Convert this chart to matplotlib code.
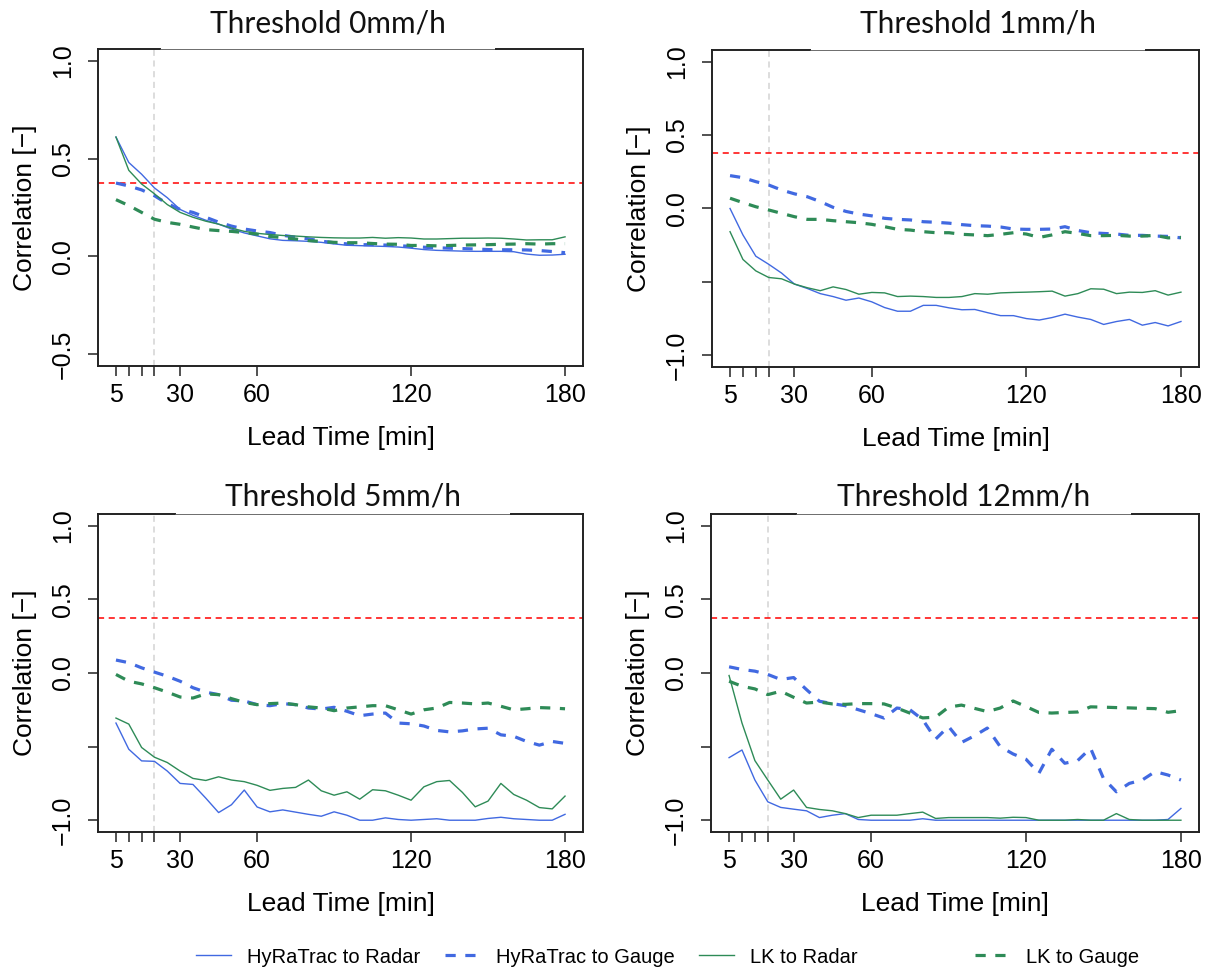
import matplotlib
matplotlib.use("Agg")
import matplotlib.pyplot as plt
from matplotlib import font_manager

# ---------------- data ----------------
lead_time = [5, 10, 15, 20, 25, 30, 35, 40, 45, 50, 55, 60, 65, 70, 75, 80, 85, 90,
             95, 100, 105, 110, 115, 120, 125, 130, 135, 140, 145, 150, 155, 160,
             165, 170, 175, 180]

series_names = ["HyRaTrac to Radar", "HyRaTrac to Gauge", "LK to Radar", "LK to Gauge"]
thresholds = ["Threshold 0mm/h", "Threshold 1mm/h", "Threshold 5mm/h", "Threshold 12mm/h"]

# Threshold 0 mm/h
hyra_radar_0 = [0.61, 0.48, 0.42, 0.35, 0.30, 0.24, 0.21, 0.185, 0.165, 0.14, 0.12, 0.105,
                0.09, 0.082, 0.08, 0.077, 0.072, 0.064, 0.057, 0.055, 0.053, 0.051, 0.048,
                0.042, 0.035, 0.031, 0.029, 0.027, 0.026, 0.026, 0.026, 0.024, 0.012,
                0.006, 0.007, 0.011]
hyra_gauge_0 = [0.375, 0.36, 0.34, 0.31, 0.27, 0.24, 0.225, 0.20, 0.175, 0.155, 0.14, 0.13,
                0.122, 0.108, 0.098, 0.09, 0.078, 0.07, 0.064, 0.06, 0.06, 0.058, 0.055,
                0.051, 0.047, 0.044, 0.042, 0.04, 0.038, 0.035, 0.034, 0.034, 0.033, 0.03,
                0.025, 0.019]
lk_radar_0 = [0.61, 0.44, 0.37, 0.32, 0.265, 0.225, 0.20, 0.18, 0.165, 0.145, 0.128, 0.118,
              0.112, 0.107, 0.104, 0.10, 0.097, 0.095, 0.094, 0.094, 0.097, 0.093, 0.096,
              0.094, 0.089, 0.089, 0.091, 0.093, 0.093, 0.094, 0.093, 0.089, 0.084, 0.085,
              0.085, 0.10]
lk_gauge_0 = [0.29, 0.26, 0.225, 0.19, 0.174, 0.164, 0.15, 0.137, 0.132, 0.128, 0.122, 0.114,
              0.102, 0.096, 0.089, 0.081, 0.076, 0.072, 0.07, 0.07, 0.066, 0.063, 0.062,
              0.056, 0.056, 0.054, 0.056, 0.058, 0.059, 0.06, 0.062, 0.063, 0.065, 0.063,
              0.065, 0.065]

# Threshold 1 mm/h
hyra_radar_1 = [0.0, -0.18, -0.325, -0.38, -0.44, -0.515, -0.545, -0.58, -0.60, -0.625,
                -0.61, -0.636, -0.675, -0.70, -0.70, -0.66, -0.66, -0.677, -0.69, -0.688,
                -0.71, -0.73, -0.73, -0.75, -0.76, -0.743, -0.72, -0.74, -0.756, -0.79,
                -0.77, -0.756, -0.795, -0.777, -0.80, -0.77]
hyra_gauge_1 = [0.224, 0.21, 0.183, 0.16, 0.126, 0.10, 0.08, 0.047, 0.008, -0.02, -0.038,
                -0.05, -0.067, -0.074, -0.078, -0.09, -0.094, -0.10, -0.11, -0.117, -0.12,
                -0.126, -0.14, -0.142, -0.142, -0.14, -0.124, -0.15, -0.165, -0.17, -0.174,
                -0.183, -0.183, -0.188, -0.19, -0.20]
lk_radar_1 = [-0.158, -0.347, -0.425, -0.47, -0.479, -0.515, -0.54, -0.56, -0.534, -0.552,
              -0.584, -0.572, -0.575, -0.60, -0.597, -0.60, -0.606, -0.606, -0.60, -0.58,
              -0.584, -0.575, -0.572, -0.57, -0.567, -0.563, -0.597, -0.58, -0.547, -0.55,
              -0.58, -0.57, -0.572, -0.56, -0.59, -0.57]
lk_gauge_1 = [0.07, 0.04, 0.012, -0.01, -0.033, -0.056, -0.074, -0.074, -0.083, -0.09,
              -0.097, -0.108, -0.124, -0.142, -0.147, -0.158, -0.165, -0.165, -0.176, -0.18,
              -0.185, -0.176, -0.165, -0.174, -0.197, -0.18, -0.158, -0.17, -0.185, -0.185,
              -0.183, -0.188, -0.188, -0.183, -0.2, -0.197]

# Threshold 5 mm/h
hyra_radar_5 = [-0.34, -0.518, -0.597, -0.60, -0.666, -0.75, -0.757, -0.85, -0.948, -0.895,
                -0.795, -0.91, -0.943, -0.93, -0.945, -0.96, -0.973, -0.943, -0.966, -1.0,
                -1.0, -0.984, -0.995, -1.0, -0.995, -0.99, -1.0, -1.0, -1.0, -0.988, -0.98,
                -0.99, -0.995, -1.0, -1.0, -0.96]
hyra_gauge_5 = [0.088, 0.07, 0.035, 0.006, -0.022, -0.056, -0.10, -0.13, -0.147, -0.185,
                -0.19, -0.215, -0.222, -0.208, -0.215, -0.238, -0.245, -0.233, -0.26, -0.29,
                -0.279, -0.272, -0.34, -0.345, -0.36, -0.39, -0.40, -0.393, -0.38, -0.375,
                -0.42, -0.43, -0.465, -0.49, -0.465, -0.478]
lk_radar_5 = [-0.306, -0.347, -0.506, -0.572, -0.608, -0.666, -0.716, -0.73, -0.705, -0.727,
              -0.738, -0.763, -0.797, -0.784, -0.777, -0.727, -0.80, -0.83, -0.807, -0.857,
              -0.793, -0.80, -0.83, -0.864, -0.773, -0.738, -0.73, -0.811, -0.909, -0.87,
              -0.75, -0.825, -0.864, -0.914, -0.923, -0.836]
lk_gauge_5 = [-0.01, -0.056, -0.074, -0.10, -0.13, -0.163, -0.17, -0.142, -0.147, -0.174,
              -0.20, -0.215, -0.208, -0.204, -0.215, -0.23, -0.238, -0.256, -0.238, -0.23,
              -0.222, -0.222, -0.25, -0.279, -0.25, -0.238, -0.20, -0.204, -0.21, -0.204,
              -0.226, -0.25, -0.243, -0.235, -0.238, -0.243]

# Threshold 12 mm/h
hyra_radar_12 = [-0.575, -0.523, -0.727, -0.875, -0.913, -0.925, -0.936, -0.982, -0.966,
                 -0.955, -0.995, -1.0, -1.0, -1.0, -1.0, -0.99, -1.0, -1.0, -1.0, -1.0, -1.0,
                 -1.0, -1.0, -1.0, -1.0, -1.0, -1.0, -1.0, -1.0, -1.0, -1.0, -1.0, -1.0,
                 -1.0, -0.995, -0.92]
hyra_gauge_12 = [0.042, 0.024, 0.0125, -0.01, -0.044, -0.031, -0.113, -0.192, -0.208,
                 -0.222, -0.249, -0.276, -0.306, -0.238, -0.249, -0.317, -0.449, -0.363,
                 -0.472, -0.427, -0.374, -0.50, -0.55, -0.586, -0.681, -0.518, -0.613,
                 -0.595, -0.511, -0.716, -0.807, -0.75, -0.727, -0.67, -0.693, -0.727]
lk_radar_12 = [-0.017, -0.34, -0.595, -0.727, -0.857, -0.795, -0.913, -0.927, -0.936, -0.955,
               -0.982, -0.966, -0.966, -0.966, -0.955, -0.945, -0.988, -0.982, -0.982,
               -0.982, -0.982, -0.986, -0.98, -0.982, -1.0, -1.0, -1.0, -0.995, -1.0, -1.0,
               -0.955, -0.995, -1.0, -1.0, -1.0, -1.0]
lk_gauge_12 = [-0.056, -0.09, -0.108, -0.147, -0.124, -0.165, -0.204, -0.197, -0.21, -0.213,
               -0.208, -0.208, -0.21, -0.238, -0.272, -0.305, -0.30, -0.232, -0.218, -0.24,
               -0.262, -0.238, -0.19, -0.228, -0.268, -0.272, -0.268, -0.265, -0.23, -0.232,
               -0.235, -0.237, -0.24, -0.242, -0.267, -0.256]

reference_line = 0.375
marker_time = 20

x_ticks = [5, 10, 15, 20, 30, 60, 120, 180]
x_ticklabels = ["5", "", "", "", "30", "60", "120", "180"]
y_ticks_0 = [-0.5, 0.0, 0.5, 1.0]
y_ticklabels_0 = ["\u22120.5", "0.0", "0.5", "1.0"]
y_ticks = [-1.0, -0.5, 0.0, 0.5, 1.0]
y_ticklabels = ["\u22121.0", "", "0.0", "0.5", "1.0"]

panels = [
    (hyra_radar_0, hyra_gauge_0, lk_radar_0, lk_gauge_0),
    (hyra_radar_1, hyra_gauge_1, lk_radar_1, lk_gauge_1),
    (hyra_radar_5, hyra_gauge_5, lk_radar_5, lk_gauge_5),
    (hyra_radar_12, hyra_gauge_12, lk_radar_12, lk_gauge_12),
]

# ---------------- style ----------------
BLUE = "#4169E1"
GREEN = "#2E8B57"
W, H = 1211, 971
fig = plt.figure(figsize=(W / 100, H / 100), dpi=100)

def fonts_avail(name):
    try:
        font_manager.findfont(name, fallback_to_default=False)
        return True
    except Exception:
        return False

title_font = "Lato" if fonts_avail("Lato") else "DejaVu Sans"
plt.rcParams["font.family"] = ["Liberation Sans", "DejaVu Sans"]

# pixel boxes: left, top, right, bottom
boxes = [(98, 49, 583, 366), (712, 50, 1199, 367), (98, 514, 583, 832), (711, 514, 1199, 832)]
title_pos = [(328, 32), (978, 32), (343, 505), (964, 505)]

axes = []
for i, (l, t, r, b) in enumerate(boxes):
    ax = fig.add_axes([l / W, 1 - b / H, (r - l) / W, (b - t) / H])
    axes.append(ax)
    hr, hg, lr, lg = panels[i]
    ax.axvline(marker_time, color="#d3d3d3", lw=1.1, ls=(0, (4, 3)), zorder=1)
    ax.axhline(reference_line, color="red", lw=1.1, ls=(0, (4, 3)), zorder=1)
    ax.plot(lead_time, hr, color=BLUE, lw=1.0, label=series_names[0], zorder=3)
    ax.plot(lead_time, hg, color=BLUE, lw=2.3, ls=(0, (3.2, 3.0)), label=series_names[1], zorder=3)
    ax.plot(lead_time, lr, color=GREEN, lw=1.0, label=series_names[2], zorder=3)
    ax.plot(lead_time, lg, color=GREEN, lw=2.3, ls=(0, (3.2, 3.0)), label=series_names[3], zorder=3)

    ax.set_xlim(-2, 187)
    ax.set_xticks(x_ticks)
    ax.set_xticklabels(x_ticklabels)
    if i == 0:
        ax.set_ylim(-0.56, 1.06)
        ax.set_yticks(y_ticks_0)
        ax.set_yticklabels(y_ticklabels_0)
    else:
        ax.set_ylim(-1.08, 1.08)
        ax.set_yticks(y_ticks)
        ax.set_yticklabels(y_ticklabels)
    ax.tick_params(axis="both", direction="out", length=7.5, width=1.2, color="#333333",
                   labelsize=18, labelcolor="black")
    ax.tick_params(axis="x", pad=5)
    ax.tick_params(axis="y", pad=9, labelrotation=90)
    for lab in ax.get_yticklabels():
        lab.set_verticalalignment("center")
    ax.set_xlabel("Lead Time [min]", fontsize=19)
    ax.set_ylabel("Correlation [\u2212]", fontsize=19)
    ax.xaxis.set_label_coords(0.5, -0.19)
    ax.yaxis.set_label_coords(-0.125, 0.5)

    for s in ["left", "right", "bottom"]:
        ax.spines[s].set_linewidth(1.4)
        ax.spines[s].set_color("#222222")
    ax.spines["top"].set_visible(False)
    # top border partly covered by the title box
    tx, ty = title_pos[i]
    a = (tx - 168 - l) / (r - l)
    bb = (tx + 168 - l) / (r - l)
    ax.plot([0, a], [1, 1], transform=ax.transAxes, color="#222222", lw=1.4,
            clip_on=False, solid_capstyle="projecting", zorder=5)
    ax.plot([a, bb], [1, 1], transform=ax.transAxes, color="#555555", lw=0.6,
            clip_on=False, zorder=5)
    ax.plot([bb, 1], [1, 1], transform=ax.transAxes, color="#222222", lw=1.4,
            clip_on=False, solid_capstyle="projecting", zorder=5)

    fig.text(tx / W, 1 - ty / H, thresholds[i], ha="center", va="baseline",
             fontsize=21.5, family=title_font, color="#111111")

handles, labels = axes[0].get_legend_handles_labels()
leg_kw = dict(loc="center left", frameon=False, borderpad=0, borderaxespad=0,
              handlelength=1.75, handletextpad=0.8, columnspacing=1.2,
              prop={"family": "Liberation Sans", "size": 14.5})
leg_y = 1 - 957 / H
fig.legend(handles[:2], labels[:2], bbox_to_anchor=(196 / W, leg_y), ncol=2, **leg_kw)
fig.legend(handles[2:3], labels[2:3], bbox_to_anchor=(699 / W, leg_y), ncol=1, **leg_kw)
fig.legend(handles[3:], labels[3:], bbox_to_anchor=(975 / W, leg_y), ncol=1, **leg_kw)

fig.savefig("out.png", dpi=100)
